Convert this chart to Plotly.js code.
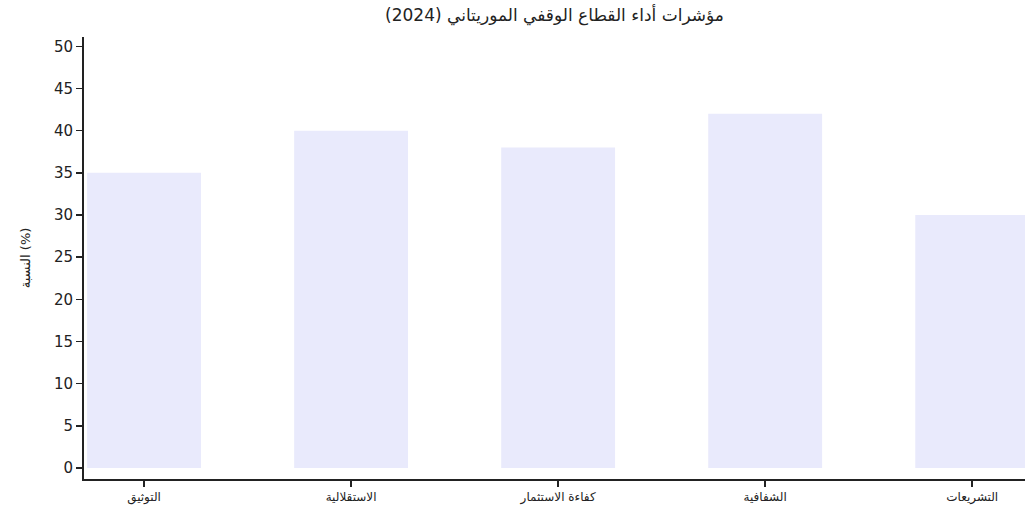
<!DOCTYPE html>
<html>
<head>
<meta charset="utf-8">
<script src="https://cdn.plot.ly/plotly-3.0.1.min.js"></script>
<style>html,body{margin:0;padding:0;background:#fff;}#chart{width:1025px;height:515px;}</style>
</head>
<body>
<div id="chart"></div>
<script>
const categories = ["التوثيق", "الاستقلالية", "كفاءة الاستثمار", "الشفافية", "التشريعات"];
const values = [35, 40, 38, 42, 30];
const titleText = "مؤشرات أداء القطاع الوقفي الموريتاني (2024)";
const yTitle = "النسبة (%)";
const yTicks = [0, 5, 10, 15, 20, 25, 30, 35, 40, 45, 50];

const trace = {
  type: "bar",
  x: categories,
  y: values,
  width: 0.55,
  marker: {color: "#e9eafc"},
  hoverinfo: "x+y"
};

const layout = {
  width: 1025,
  height: 515,
  margin: {l: 84, r: 0, t: 37, b: 36},
  paper_bgcolor: "#ffffff",
  plot_bgcolor: "#ffffff",
  showlegend: false,
  font: {family: "DejaVu Sans, Verdana, sans-serif", color: "#222"},
  title: {
    text: titleText,
    font: {size: 17, color: "#222", family: "DejaVu Sans, sans-serif"},
    x: 0.5, xanchor: "center", xref: "paper",
    y: 1 - 15/515, yref: "container", yanchor: "middle"
  },
  xaxis: {
    type: "category",
    range: [-0.29, 4.255],
    showline: true, linecolor: "#222", linewidth: 2,
    ticks: "outside", ticklen: 6, tickwidth: 2, tickcolor: "#222",
    showgrid: false, zeroline: false,
    tickfont: {size: 12, color: "#222"},
    fixedrange: true
  },
  yaxis: {
    range: [-1.3, 51.1],
    tickvals: yTicks,
    showline: true, linecolor: "#222", linewidth: 2,
    ticks: "outside", ticklen: 6, tickwidth: 1.5, tickcolor: "#222",
    showgrid: false, zeroline: false,
    tickfont: {size: 15, color: "#222"},
    title: {text: yTitle, font: {size: 13, color: "#222"}, standoff: 20},
    fixedrange: true
  }
};

Plotly.newPlot("chart", [trace], layout, {displayModeBar: false, staticPlot: true});
</script>
</body>
</html>
